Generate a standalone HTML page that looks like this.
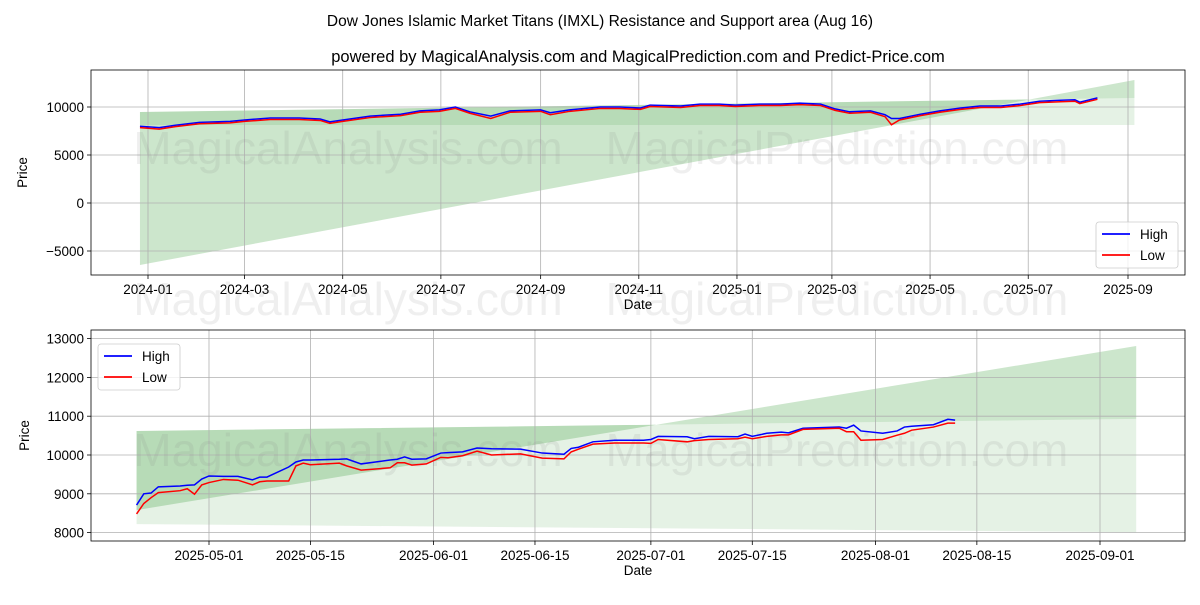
<!DOCTYPE html>
<html><head><meta charset="utf-8"><style>
body{margin:0;background:#fff;width:1200px;height:600px;overflow:hidden}
svg{font-family:"Liberation Sans","DejaVu Sans",sans-serif}
</style></head><body>
<svg id="c" width="1200" height="600" viewBox="0 0 1200 600">
<text x="600" y="26" text-anchor="middle" font-size="15.5">Dow Jones Islamic Market Titans (IMXL) Resistance and Support area (Aug 16)</text>
</svg>
<script>
// ---- Top chart data ----
const topDates=["2023-12-27","2024-01-08","2024-01-18","2024-02-02","2024-02-21","2024-03-01","2024-03-17","2024-04-04","2024-04-17","2024-04-23","2024-05-01","2024-05-18","2024-06-06","2024-06-18","2024-06-30","2024-07-10","2024-07-19","2024-08-01","2024-08-13","2024-09-01","2024-09-07","2024-09-19","2024-10-08","2024-10-20","2024-11-02","2024-11-08","2024-11-27","2024-12-09","2024-12-21","2024-12-31","2025-01-15","2025-01-28","2025-02-09","2025-02-22","2025-03-03","2025-03-12","2025-03-25","2025-04-03","2025-04-07","2025-04-12","2025-04-25","2025-05-07","2025-05-20","2025-06-01","2025-06-14","2025-06-26","2025-07-08","2025-07-21","2025-07-30","2025-08-02","2025-08-13"];
const topHigh=[8000,7850,8100,8400,8500,8650,8850,8850,8750,8450,8650,9050,9250,9600,9700,10000,9500,9050,9600,9700,9400,9700,10000,10000,9900,10200,10100,10300,10300,10200,10300,10300,10400,10300,9800,9500,9600,9200,8800,8800,9250,9600,9900,10100,10100,10300,10600,10700,10750,10500,10950];
const topLow=[7850,7700,7950,8250,8350,8500,8700,8700,8600,8300,8500,8900,9100,9450,9550,9850,9350,8800,9450,9550,9200,9550,9850,9850,9750,10050,9950,10150,10150,10050,10150,10150,10250,10150,9650,9350,9450,9000,8150,8650,9100,9450,9750,9950,9950,10150,10450,10550,10600,10350,10800];
const topBandDates=["2023-12-27","2025-09-05"];
const topResA=[-6460,12810];
const topResB=[9480,10940];
const topSupLow=[8125,8125];
const topYTicks=[-5000,0,5000,10000];
const topXTicks=["2024-01","2024-03","2024-05","2024-07","2024-09","2024-11","2025-01","2025-03","2025-05","2025-07","2025-09"];
// ---- Bottom chart data ----
const botDates=["2025-04-21","2025-04-22","2025-04-23","2025-04-24","2025-04-27","2025-04-28","2025-04-29","2025-04-30","2025-05-01","2025-05-03","2025-05-05","2025-05-07","2025-05-08","2025-05-09","2025-05-12","2025-05-13","2025-05-14","2025-05-15","2025-05-19","2025-05-20","2025-05-22","2025-05-26","2025-05-27","2025-05-28","2025-05-29","2025-05-31","2025-06-02","2025-06-03","2025-06-05","2025-06-07","2025-06-09","2025-06-13","2025-06-16","2025-06-19","2025-06-20","2025-06-21","2025-06-23","2025-06-26","2025-06-30","2025-07-01","2025-07-02","2025-07-06","2025-07-07","2025-07-09","2025-07-13","2025-07-14","2025-07-15","2025-07-17","2025-07-19","2025-07-20","2025-07-22","2025-07-27","2025-07-28","2025-07-29","2025-07-30","2025-08-02","2025-08-04","2025-08-05","2025-08-06","2025-08-09","2025-08-11","2025-08-12"];
const botHigh=[8710,9000,9020,9180,9200,9220,9230,9380,9460,9450,9450,9360,9430,9430,9690,9820,9870,9870,9890,9900,9770,9870,9890,9950,9890,9900,10050,10060,10080,10180,10160,10150,10050,10020,10170,10200,10340,10380,10380,10400,10480,10470,10420,10480,10470,10540,10480,10560,10590,10570,10690,10720,10690,10770,10620,10560,10620,10720,10740,10780,10920,10900];
const botLow=[8480,8750,8900,9030,9080,9130,8990,9230,9290,9370,9350,9230,9310,9330,9330,9720,9790,9750,9790,9720,9610,9670,9800,9800,9740,9770,9940,9930,9980,10100,10000,10030,9920,9900,10080,10150,10280,10310,10310,10300,10400,10340,10370,10400,10420,10460,10420,10480,10520,10520,10660,10690,10600,10600,10380,10400,10510,10560,10640,10720,10820,10820];
const botBandDates=["2025-04-21","2025-09-06"];
const botResA=[8580,12810];
const botResB=[10620,10930];
const botSupLow=[8220,8010];
const botYTicks=[8000,9000,10000,11000,12000,13000];
const botXTicks=["2025-05-01","2025-05-15","2025-06-01","2025-06-15","2025-07-01","2025-07-15","2025-08-01","2025-08-15","2025-09-01"];

const svg=document.getElementById('c');
const NS="http://www.w3.org/2000/svg";
function mk(tag,attrs,parent){const e=document.createElementNS(NS,tag);for(const k in attrs)e.setAttribute(k,attrs[k]);(parent||svg).appendChild(e);return e;}
function day(s){const p=s.split('-').map(Number);return Date.UTC(p[0],p[1]-1,p[2]||1)/86400000;}

function drawChart(o){
  const g=mk('g',{});
  
  
  const X=d=>o.x0+(day(d)-day(o.d0))*o.xs;
  const Y=v=>o.y0-(v-o.v0)*o.ys;
  const d0=o.bandDates[0],d1=o.bandDates[1];
  const a=mk('polygon',{points:`${X(d0)},${Y(o.resA[0])} ${X(d1)},${Y(o.resA[1])} ${X(d1)},${Y(o.resB[1])} ${X(d0)},${Y(o.resB[0])}`,fill:'rgb(0,128,0)','fill-opacity':0.2},g);
  
  
  const b=mk('polygon',{points:`${X(d0)},${Y(o.resB[0])} ${X(d1)},${Y(o.resB[1])} ${X(d1)},${Y(o.supLow[1])} ${X(d0)},${Y(o.supLow[0])}`,fill:'rgb(0,128,0)','fill-opacity':0.1},g);
  
  
  o.yTicks.forEach(v=>{const y=Y(v);
    mk('line',{x1:o.L,x2:o.R,y1:y,y2:y,stroke:'#b0b0b0','stroke-width':0.8},g);
    mk('line',{x1:o.L-4,x2:o.L,y1:y,y2:y,stroke:'#000','stroke-width':0.8},g);
    const t=mk('text',{x:o.L-7,y:y+5,'text-anchor':'end','font-size':13.5},g);
    t.textContent=(v<0?'\u2212'+(-v):String(v));
    
    });
  o.xTicks.forEach(d=>{const x=X(d);
    mk('line',{x1:x,x2:x,y1:o.T,y2:o.B,stroke:'#b0b0b0','stroke-width':0.8},g);
    mk('line',{x1:x,x2:x,y1:o.B,y2:o.B+4,stroke:'#000','stroke-width':0.8},g);
    const t=mk('text',{x:x,y:o.B+19,'text-anchor':'middle','font-size':13.5},g);
    t.textContent=d;
    
    });
  o.wm.forEach(w=>{const t=mk('text',{x:w[0],y:w[1],'text-anchor':'middle','font-size':46,fill:'rgba(128,128,128,0.13)'},g);t.textContent=w[2];
    
    });
  const hp=mk('polyline',{points:o.dates.map((d,i)=>X(d)+','+Y(o.high[i])).join(' '),fill:'none',stroke:'#0000ff','stroke-width':1.5},g);
  
  
  const lp=mk('polyline',{points:o.dates.map((d,i)=>X(d)+','+Y(o.low[i])).join(' '),fill:'none',stroke:'#ff0000','stroke-width':1.5},g);
  
  
  mk('rect',{x:o.L,y:o.T,width:o.R-o.L,height:o.B-o.T,fill:'none',stroke:'#000','stroke-width':0.8},g);
  const xl=mk('text',{x:(o.L+o.R)/2,y:o.B+34,'text-anchor':'middle','font-size':13.5},g);xl.textContent='Date';
  
  
  const yx=o.yLabelX,yy=(o.T+o.B)/2;
  const yl=mk('text',{x:yx,y:yy,'text-anchor':'middle','font-size':13.5,transform:`rotate(-90 ${yx} ${yy})`},g);yl.textContent='Price';
  
  
  const lg=mk('g',{},g);
  
  
  const [lx,ly]=o.legend;
  mk('rect',{x:lx,y:ly,width:82,height:46,rx:3,fill:'#fff','fill-opacity':0.8,stroke:'#ccc','stroke-width':0.8},lg);
  [['High','#0000ff'],['Low','#ff0000']].forEach((e,i)=>{const yy2=ly+12+i*21;
    mk('line',{x1:lx+6,x2:lx+34,y1:yy2,y2:yy2,stroke:e[1],'stroke-width':1.8},lg);
    const t=mk('text',{x:lx+44,y:yy2+5,'font-size':13.5},lg);t.textContent=e[0];
    
    });
}
drawChart({name:'top-chart',L:91,R:1185,T:70,B:275,x0:148,d0:'2024-01-01',xs:980/609,y0:203,v0:0,ys:0.0096,
  dates:topDates,high:topHigh,low:topLow,bandDates:topBandDates,resA:topResA,resB:topResB,supLow:topSupLow,
  yTicks:topYTicks,xTicks:topXTicks,yLabelX:27,legend:[1096,222],
  wm:[[348,164,'MagicalAnalysis.com'],[837,164,'MagicalPrediction.com'],[348,315,'MagicalAnalysis.com'],[837,315,'MagicalPrediction.com']]});
drawChart({name:'bottom-chart',L:91,R:1185,T:330,B:541,x0:209,d0:'2025-05-01',xs:891/123,y0:455,v0:10000,ys:0.0388,
  dates:botDates,high:botHigh,low:botLow,bandDates:botBandDates,resA:botResA,resB:botResB,supLow:botSupLow,
  yTicks:botYTicks,xTicks:botXTicks,yLabelX:29,legend:[98,344],
  wm:[[348,466,'MagicalAnalysis.com'],[837,466,'MagicalPrediction.com']]});
const st=mk('text',{x:638,y:62,'text-anchor':'middle','font-size':16.5});
st.textContent='powered by MagicalAnalysis.com and MagicalPrediction.com and Predict-Price.com';


</script>
</body></html>
